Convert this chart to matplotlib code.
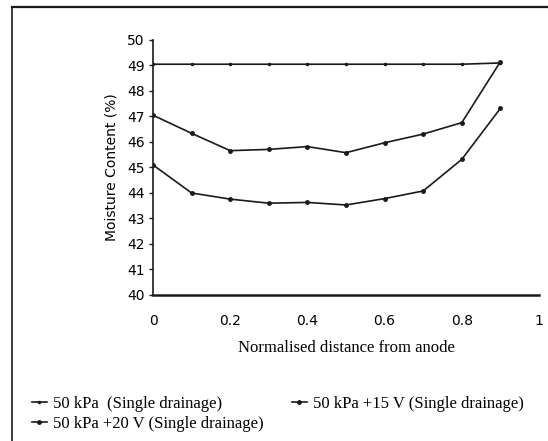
import matplotlib.pyplot as plt
from matplotlib.lines import Line2D

# data
x = [0, 0.1, 0.2, 0.3, 0.4, 0.5, 0.6, 0.7, 0.8, 0.9]
mc_50kpa = [49.05, 49.05, 49.05, 49.05, 49.05, 49.05, 49.05, 49.05, 49.05, 49.1]
mc_15v = [47.05, 46.34, 45.66, 45.71, 45.82, 45.58, 45.97, 46.31, 46.76, 49.15]
mc_20v = [45.1, 44.0, 43.76, 43.6, 43.63, 43.53, 43.78, 44.08, 45.32, 47.32]
labels = ['50 kPa  (Single drainage)',
          '50 kPa +15 V (Single drainage)',
          '50 kPa +20 V (Single drainage)']
xticks = [0, 0.2, 0.4, 0.6, 0.8, 1]
xticklabels = ['0', '0.2', '0.4', '0.6', '0.8', '1']
yticks = list(range(40, 51))

ink = '#1a1a1a'
fig = plt.figure(figsize=(5.48, 4.41), dpi=100)
ax = fig.add_axes([0.2792, 0.3311, 0.7044, 0.5782])

s1, = ax.plot(x, mc_50kpa, color=ink, lw=1.2, marker='o', ms=1.5)
s2, = ax.plot(x, mc_15v, color=ink, lw=1.2, marker='o', ms=2.5)
s3, = ax.plot(x, mc_20v, color=ink, lw=1.2, marker='o', ms=2.5)

ax.set_xlim(0, 1)
ax.set_ylim(40, 50)
ax.set_xticks(xticks)
ax.set_xticklabels(xticklabels, fontname='DejaVu Sans', fontsize=10)
ax.set_yticks(yticks)
ax.tick_params(axis='y', length=3, width=1, pad=3, labelsize=10, color=ink)
ax.tick_params(axis='x', length=0, pad=14)
for sp in ['top', 'right']:
    ax.spines[sp].set_visible(False)
for sp in ['left', 'bottom']:
    ax.spines[sp].set_color(ink)
    ax.spines[sp].set_linewidth(1.2)
ax.spines['bottom'].set_linewidth(1.8)

ax.set_ylabel('Moisture Content (%)', fontname='DejaVu Sans', fontsize=10, labelpad=6)
ax.set_xlabel('Normalised distance from anode', fontname='Liberation Serif',
              fontsize=12, labelpad=8)

# outer frame of the scanned figure
fig.add_artist(Line2D([0.022, 1.0], [0.984, 0.984], color=ink, lw=1.6))
fig.add_artist(Line2D([0.022, 0.022], [0.0, 0.984], color=ink, lw=1.2))

# legend filled row by row: reorder for column-major fill
leg = fig.legend([s1, s3, s2], [labels[0], labels[2], labels[1]],
                 ncol=2, loc='lower left', bbox_to_anchor=(0.031, -0.014),
                 frameon=False, handlelength=0.9, handletextpad=0.35,
                 columnspacing=1.7, labelspacing=0.25,
                 prop={'family': 'Liberation Serif', 'size': 12})

fig.savefig('out.png', dpi=100)
